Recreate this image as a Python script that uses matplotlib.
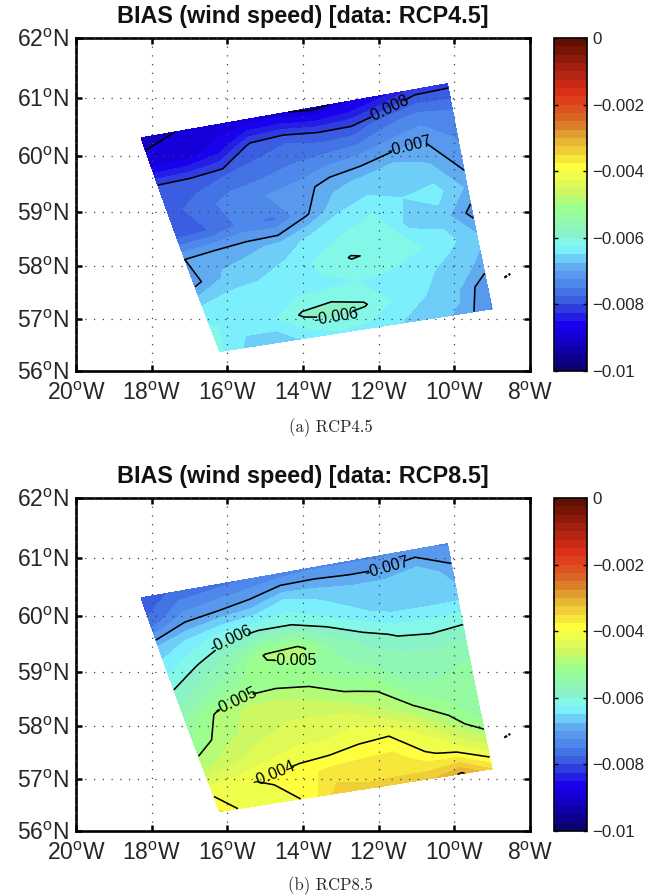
import numpy as np
import matplotlib
matplotlib.use("Agg")
import matplotlib.pyplot as plt
from matplotlib.colors import LinearSegmentedColormap, Normalize
from matplotlib.cm import ScalarMappable

plt.rcParams['font.family'] = ['Liberation Sans', 'DejaVu Sans']
plt.rcParams['mathtext.fontset'] = 'custom'
plt.rcParams['mathtext.rm'] = 'Liberation Sans'
plt.rcParams['axes.unicode_minus'] = False
plt.rcParams['contour.negative_linestyle'] = 'solid'

titles = ['BIAS (wind speed) [data: RCP4.5]', 'BIAS (wind speed) [data: RCP8.5]']
captions = ['(a) RCP4.5', '(b) RCP8.5']
lon_ticks = [-20, -18, -16, -14, -12, -10, -8]
lat_ticks = [56, 57, 58, 59, 60, 61, 62]
cbar_ticks = [-0.01, -0.008, -0.006, -0.004, -0.002, 0]
cbar_labels = ['\u22120.01', '\u22120.008', '\u22120.006', '\u22120.004', '\u22120.002', '0']
contour_levels = [-0.009, -0.008, -0.007, -0.006, -0.005, -0.004, -0.003]

# domain corners (lon, lat)
corner_nw = (-18.28, 60.31)
corner_ne = (-10.18, 61.24)
corner_se = (-9.00, 57.20)
corner_sw = (-16.20, 56.38)

# bias values x 1e-3; rows north to south, columns west to east
rcp45 = [
    [-9.05, -9.00, -8.95, -8.95, -8.95, -9.10, -8.90, -8.60, -8.15, -8.10],
    [-8.95, -8.90, -8.60, -7.90, -7.80, -7.95, -7.95, -7.60, -7.40, -7.50],
    [-7.90, -7.85, -7.75, -7.65, -7.50, -7.40, -7.30, -7.10, -7.00, -7.30],
    [-7.85, -7.65, -7.35, -7.25, -7.15, -6.85, -6.70, -6.50, -6.70, -7.10],
    [-7.85, -7.75, -7.45, -7.55, -7.05, -6.55, -6.40, -6.50, -6.40, -6.80],
    [-7.00, -6.85, -6.80, -6.70, -6.40, -6.25, -6.05, -6.60, -6.60, -7.10],
    [-7.10, -6.70, -6.60, -6.40, -6.20, -5.98, -6.05, -6.20, -6.40, -6.70],
    [-6.50, -6.35, -6.30, -6.35, -6.30, -6.25, -6.30, -6.40, -6.60, -6.80],
    [-6.20, -6.40, -6.30, -5.95, -5.85, -5.97, -6.30, -6.50, -6.70, -7.20],
    [-6.20, -6.60, -6.70, -6.40, -6.30, -6.35, -6.50, -6.65, -6.80, -7.30],
]
rcp85 = [
    [-7.90, -7.70, -7.60, -7.50, -7.40, -7.30, -7.30, -7.30, -7.20, -7.30],
    [-7.70, -7.15, -7.00, -6.85, -6.50, -6.60, -6.70, -6.70, -6.50, -6.90],
    [-6.70, -6.40, -6.10, -6.00, -6.00, -6.20, -6.45, -6.60, -6.60, -6.60],
    [-6.30, -5.95, -5.60, -4.95, -4.85, -5.55, -5.85, -6.05, -6.10, -6.05],
    [-5.90, -5.55, -5.25, -5.20, -5.20, -5.40, -5.55, -5.65, -5.70, -5.60],
    [-5.50, -4.95, -4.70, -4.65, -4.80, -4.97, -5.05, -5.50, -5.50, -5.40],
    [-5.20, -4.85, -4.60, -4.45, -4.40, -4.40, -4.70, -4.97, -5.25, -5.40],
    [-4.85, -4.55, -4.35, -4.20, -4.20, -4.05, -4.00, -4.30, -4.80, -5.25],
    [-4.15, -4.08, -3.92, -3.82, -3.68, -3.65, -3.62, -3.95, -4.10, -4.50],
    [-3.70, -4.20, -4.25, -3.88, -3.35, -3.45, -3.45, -3.30, -2.95, -3.50],
]
# small island outline, lon/lat
island_lon = [-8.68, -8.52]
island_lat = [57.79, 57.86]

# where the inline labels sit (lon, lat)
label_spots = [
    [(-11.77, 60.81), (-11.20, 60.20), (-13.14, 57.05)],
    [(-11.81, 60.90), (-15.92, 59.60), (-14.25, 59.16), (-15.74, 58.42), (-14.82, 57.20)],
]
flat_labels = [[], [2]]

cmap_stops = [
    (0.000, '#0a0070'), (0.065, '#1000b8'), (0.125, '#1800f0'), (0.165, '#2828e0'),
    (0.200, '#3858e0'), (0.245, '#4a80e8'), (0.305, '#60a8f0'), (0.370, '#80ffff'),
    (0.400, '#88f0d0'), (0.485, '#98ff90'), (0.540, '#d0f860'), (0.615, '#ffff40'),
    (0.715, '#e0a030'), (0.755, '#d87028'), (0.840, '#e03018'), (0.925, '#a02010'),
    (1.000, '#601000'),
]
cmap = LinearSegmentedColormap.from_list('bias', cmap_stops, N=40)

W, H = 661, 896
fig = plt.figure(figsize=(W / 100, H / 100), dpi=100)


def box(l, t, r, b):
    return [l / W, 1 - b / H, (r - l) / W, (b - t) / H]


def merc(v):
    return np.log(np.tan(np.pi / 4 + np.radians(np.asarray(v, float)) / 2))


def imerc(v):
    return np.degrees(2 * np.arctan(np.exp(np.asarray(v, float))) - np.pi / 2)


nrow, ncol = np.shape(rcp45)
west_lon = np.linspace(corner_nw[0], corner_sw[0], nrow)
west_lat = np.linspace(corner_nw[1], corner_sw[1], nrow)
east_lon = np.linspace(corner_ne[0], corner_se[0], nrow)
east_lat = np.linspace(corner_ne[1], corner_se[1], nrow)
X = np.array([np.linspace(a, b, ncol) for a, b in zip(west_lon, east_lon)])
Y = np.array([np.linspace(a, b, ncol) for a, b in zip(west_lat, east_lat)])

text_colour = '#262626'
tops = [38, 498]
caption_y = [428, 886]
for k, data in enumerate([rcp45, rcp85]):
    top = tops[k]
    norm = Normalize(-0.01, 0)
    ax = fig.add_axes(box(76, top, 530, top + 333))
    ax.set_yscale('function', functions=(merc, imerc))
    Z = np.array(data) * 1e-3
    ax.contourf(X, Y, Z, levels=np.linspace(-0.01, 0, 41), cmap=cmap, norm=norm, zorder=1)
    cs = ax.contour(X, Y, Z, levels=contour_levels, colors='k', linewidths=1.15, zorder=3)
    labels = ax.clabel(cs, inline=True, fontsize=11.5, fmt='%.3f', manual=label_spots[k], inline_spacing=1)
    for i in flat_labels[k]:
        labels[i].set_rotation(0)
    ax.plot(island_lon, island_lat, color='k', lw=1.6, ls=(0, (1.5, 0.7)), zorder=3)
    ax.set_xlim(-20, -8)
    ax.set_ylim(56, 62)
    ax.set_xticks(lon_ticks)
    ax.set_yticks(lat_ticks)
    ax.minorticks_off()
    ax.set_xticklabels([r'$\mathregular{%d^{o}W}$' % abs(v) for v in lon_ticks], fontsize=16.5, color=text_colour)
    ax.set_yticklabels([r'$\mathregular{%d^{o}N}$' % v for v in lat_ticks], fontsize=16.5, color=text_colour)
    ax.tick_params(direction='in', top=True, right=True, length=4, width=1.8)
    ax.tick_params(axis='x', pad=8)
    ax.tick_params(axis='y', pad=5.5)
    ax.grid(True, color='#444444', lw=0.9, ls=(0, (1, 6)), zorder=2)
    ax.set_axisbelow(False)
    for s in ax.spines.values():
        s.set_linewidth(1.9)
    ax.set_title(titles[k], fontsize=16.8, fontweight='bold', pad=10.5, color='#111111')
    fig.text(0.5, 1 - caption_y[k] / H, captions[k], family='cmr10', fontsize=12, ha='center', va='center', color=text_colour)

    cax = fig.add_axes(box(553.5, top, 587, top + 333))
    cb = fig.colorbar(ScalarMappable(norm=norm, cmap=cmap), cax=cax)
    cb.set_ticks(cbar_ticks)
    cb.set_ticklabels(cbar_labels)
    cax.tick_params(direction='in', left=True, right=True, length=3, width=1.0, labelsize=12.2, pad=4, labelcolor=text_colour)
    cb.outline.set_linewidth(1.2)

fig.savefig('out.png', dpi=100)
